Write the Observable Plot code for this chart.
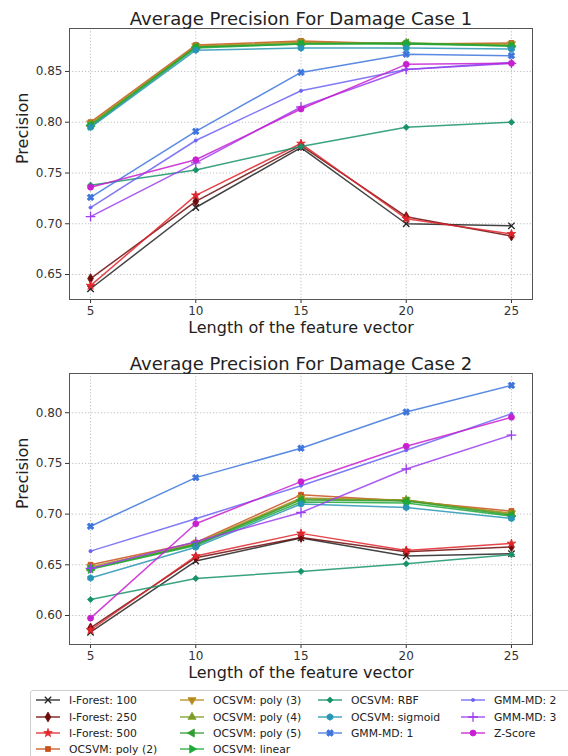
<!DOCTYPE html>
<html>
<head>
<meta charset="utf-8">
<script src="https://cdn.jsdelivr.net/npm/d3@7"></script>
<script src="https://cdn.jsdelivr.net/npm/@observablehq/plot@0.6"></script>
<style>
  html, body { margin: 0; padding: 0; background: white; }
  body { width: 568px; height: 756px; position: relative; overflow: hidden; font-family: "DejaVu Sans", sans-serif; }
  .chart { position: absolute; left: 0; }
  #legend { position: absolute; left: 30px; top: 690px; width: 560px; height: 80px; border: 1px solid #cfcfcf; border-radius: 3px; box-sizing: border-box; }
  .entry { position: absolute; display: flex; align-items: center; font-size: 10.8px; color: #222; white-space: nowrap; }
  .entry svg { margin-right: 9px; }
</style>
</head>
<body>
<div id="c1" class="chart" style="top:0px"></div>
<div id="c2" class="chart" style="top:345px"></div>
<div id="legend"></div>
<script>
// ---------- data ----------
const lengths = [5, 10, 15, 20, 25];
const methods = [
  "I-Forest: 100", "I-Forest: 250", "I-Forest: 500",
  "OCSVM: poly (2)", "OCSVM: poly (3)", "OCSVM: poly (4)", "OCSVM: poly (5)", "OCSVM: linear",
  "OCSVM: RBF", "OCSVM: sigmoid",
  "GMM-MD: 1", "GMM-MD: 2", "GMM-MD: 3", "Z-Score"
];
const case1 = [
  [0.636, 0.716, 0.775, 0.700, 0.698],
  [0.646, 0.722, 0.777, 0.707, 0.688],
  [0.639, 0.728, 0.779, 0.705, 0.690],
  [0.800, 0.876, 0.880, 0.877, 0.878],
  [0.799, 0.875, 0.879, 0.877, 0.877],
  [0.798, 0.874, 0.878, 0.878, 0.876],
  [0.797, 0.874, 0.877, 0.878, 0.875],
  [0.796, 0.873, 0.877, 0.877, 0.875],
  [0.738, 0.753, 0.776, 0.795, 0.800],
  [0.795, 0.871, 0.873, 0.873, 0.872],
  [0.726, 0.791, 0.849, 0.867, 0.8655],
  [0.716, 0.782, 0.831, 0.852, 0.859],
  [0.707, 0.760, 0.815, 0.852, 0.858],
  [0.736, 0.763, 0.813, 0.857, 0.858]
];
const case2 = [
  [0.5835, 0.6537, 0.6765, 0.6586, 0.661],
  [0.5877, 0.657, 0.677, 0.6628, 0.6677],
  [0.5857, 0.6586, 0.681, 0.6642, 0.671],
  [0.650, 0.672, 0.719, 0.713, 0.703],
  [0.648, 0.671, 0.716, 0.714, 0.701],
  [0.6465, 0.670, 0.715, 0.714, 0.700],
  [0.646, 0.670, 0.714, 0.713, 0.699],
  [0.6455, 0.669, 0.712, 0.711, 0.698],
  [0.6158, 0.6366, 0.6435, 0.651, 0.660],
  [0.637, 0.6674, 0.710, 0.7065, 0.6957],
  [0.688, 0.736, 0.765, 0.8007, 0.827],
  [0.6635, 0.6955, 0.728, 0.763, 0.799],
  [0.6465, 0.6727, 0.7016, 0.7445, 0.778],
  [0.5974, 0.6905, 0.732, 0.767, 0.7955]
];
const yTicks1 = [0.65, 0.70, 0.75, 0.80, 0.85];
const yTicks2 = [0.60, 0.65, 0.70, 0.75, 0.80];
const titles = ["Average Precision For Damage Case 1", "Average Precision For Damage Case 2"];
const xLabel = "Length of the feature vector";
const yLabel = "Precision";

// ---------- styles ----------
const colors = ["#222222", "#6e0b0b", "#e0262b", "#c8521c", "#b58a1d", "#7c9c24", "#2f9e2f", "#1fa83a",
  "#17936a", "#2795b5", "#3d75dd", "#6b62f5", "#9c3df0", "#c81fd0"];

function triangle(angle) {
  return { draw(ctx, size) {
    const R = Math.sqrt(size / (3 * Math.sqrt(3) / 4));
    for (let k = 0; k < 3; k++) {
      const a = angle + k * 2 * Math.PI / 3;
      const px = R * Math.cos(a), py = R * Math.sin(a);
      k ? ctx.lineTo(px, py) : ctx.moveTo(px, py);
    }
    ctx.closePath();
  }};
}
const hexagon = { draw(ctx, size) {
  const R = Math.sqrt(size / (3 * Math.sqrt(3) / 2));
  for (let k = 0; k < 6; k++) {
    const a = -Math.PI / 2 + k * Math.PI / 3;
    const px = R * Math.cos(a), py = R * Math.sin(a);
    k ? ctx.lineTo(px, py) : ctx.moveTo(px, py);
  }
  ctx.closePath();
}};
const filledX = { draw(ctx, size) {
  const a = Math.sqrt(size) * 0.62, b = a * 0.36;
  const pts = [[b,a],[b,b],[a,b],[a,-b],[b,-b],[b,-a],[-b,-a],[-b,-b],[-a,-b],[-a,b],[-b,b],[-b,a]];
  const c = Math.SQRT1_2;
  pts.forEach(([x, y], k) => {
    const px = x * c - y * c, py = x * c + y * c;
    k ? ctx.lineTo(px, py) : ctx.moveTo(px, py);
  });
  ctx.closePath();
}};
const symbols = [d3.symbolTimes, d3.symbolDiamond, d3.symbolStar, d3.symbolSquare,
  triangle(Math.PI / 2), triangle(-Math.PI / 2), triangle(Math.PI), triangle(0),
  d3.symbolDiamond2, hexagon, filledX, d3.symbolCircle, d3.symbolPlus, d3.symbolCircle];
const radii = [3.0, 3.0, 2.7, 2.8, 3.0, 3.0, 3.0, 3.0, 2.8, 3.0, 3.2, 1.6, 3.2, 3.0];
const hollow = [true, false, false, false, false, false, false, false, false, false, false, false, true, false];

// ---------- charts ----------
function chart(values, yDomain, yTicks, title) {
  const marks = [
    Plot.gridX(lengths, {stroke: "#b0b0b0", strokeOpacity: 0.8, strokeDasharray: "1.2,2"}),
    Plot.gridY(yTicks, {stroke: "#b0b0b0", strokeOpacity: 0.8, strokeDasharray: "1.2,2"}),
    Plot.axisX(lengths, {tickSize: 4, tickPadding: 3, fontSize: 12, label: null}),
    Plot.axisY(yTicks, {tickSize: 4, tickPadding: 3, fontSize: 12, label: null, tickFormat: d3.format(".2f")})
  ];
  methods.forEach((m, i) => {
    const rows = lengths.map((x, j) => ({x, y: values[i][j]}));
    marks.push(Plot.line(rows, {x: "x", y: "y", stroke: colors[i], strokeWidth: 1.5, strokeOpacity: 0.85}));
    marks.push(Plot.dot(rows, {x: "x", y: "y", symbol: symbols[i], r: radii[i],
      fill: hollow[i] ? "none" : colors[i], stroke: colors[i], strokeWidth: hollow[i] ? 1.3 : 0.8}));
  });
  marks.push(Plot.frame({stroke: "#555", strokeWidth: 1}));
  marks.push(Plot.text([title], {text: d => d, frameAnchor: "top", dy: -16, fontSize: 18, fill: "#222"}));
  marks.push(Plot.text([xLabel], {text: d => d, frameAnchor: "bottom", dy: 33, fontSize: 16, fill: "#222"}));
  marks.push(Plot.text([yLabel], {text: d => d, frameAnchor: "left", dx: -47, rotate: -90, fontSize: 16, fill: "#222"}));
  return Plot.plot({
    width: 568, height: 345,
    marginLeft: 69, marginRight: 36, marginTop: 28, marginBottom: 46,
    x: {type: "linear", domain: [4, 26]},
    y: {type: "linear", domain: yDomain},
    style: {fontFamily: "DejaVu Sans", fontSize: "11px", color: "#333", background: "white", overflow: "visible"},
    marks
  });
}
document.getElementById("c1").appendChild(chart(case1, [0.6254, 0.8923], yTicks1, titles[0]));
document.getElementById("c2").appendChild(chart(case2, [0.5714, 0.8387], yTicks2, titles[1]));

// ---------- legend ----------
const legendCols = [[0, 1, 2, 3], [4, 5, 6, 7], [8, 9, 10], [11, 12, 13]];
const colX = [5, 149, 287, 430];
const rowY = [9, 26, 42, 58];
const legend = document.getElementById("legend");
legendCols.forEach((col, c) => col.forEach((i, r) => {
  const e = document.createElement("div");
  e.className = "entry";
  e.style.left = colX[c] + "px";
  e.style.top = (rowY[r] - 8) + "px";
  e.style.height = "16px";
  const size = Math.PI * radii[i] * radii[i];
  const path = d3.symbol(symbols[i], size)();
  e.innerHTML = `<svg width="24" height="12" viewBox="0 0 24 12">
    <line x1="0" x2="24" y1="6" y2="6" stroke="${colors[i]}" stroke-width="1.5" stroke-opacity="0.85"/>
    <path transform="translate(12,6)" d="${path}" fill="${hollow[i] ? "none" : colors[i]}" stroke="${colors[i]}" stroke-width="${hollow[i] ? 1.3 : 0.8}"/>
  </svg><span>${methods[i]}</span>`;
  legend.appendChild(e);
}));
</script>
</body>
</html>
